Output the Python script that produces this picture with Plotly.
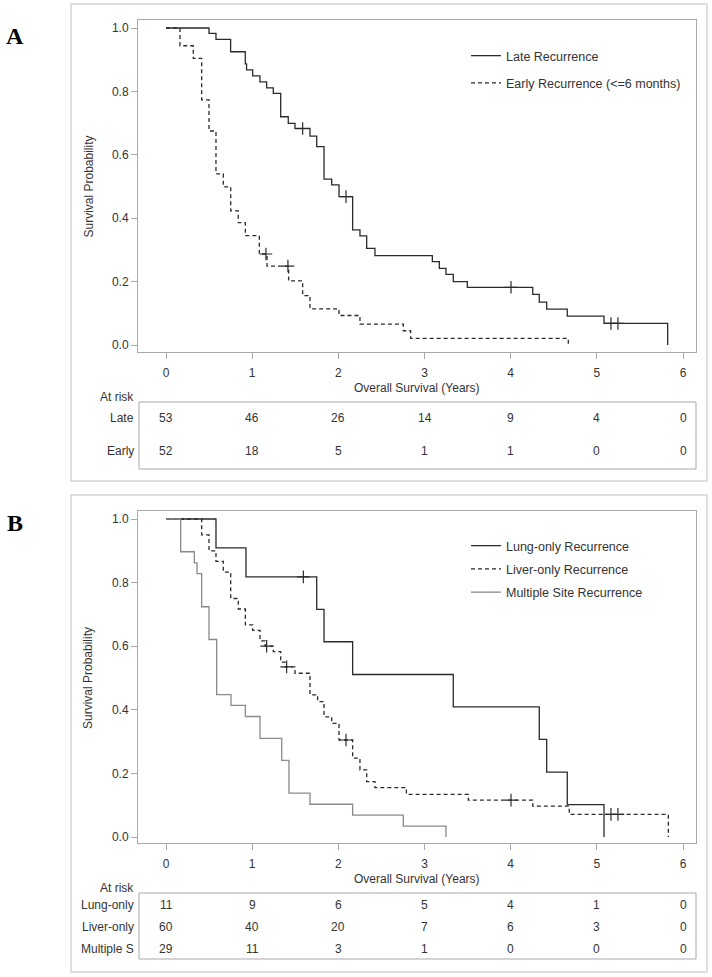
import plotly.graph_objects as go

W, H = 712, 977

# ---------------- data ----------------
years = [0, 1, 2, 3, 4, 5, 6]

# Panel A: Kaplan-Meier steps (time in years, survival after step)
late_t = [0, 0.499, 0.58, 0.75, 0.92, 0.935, 1.006, 1.09, 1.168, 1.245, 1.331, 1.419, 1.497, 1.671,
          1.749, 1.834, 1.923, 2.008, 2.166, 2.251, 2.329, 2.425, 3.091, 3.172, 3.249, 3.334,
          3.497, 4.256, 4.332, 4.418, 4.657, 5.083, 5.822]
late_s = [1.0, 0.983, 0.964, 0.925, 0.887, 0.868, 0.849, 0.830, 0.811, 0.794, 0.720, 0.699, 0.683,
          0.659, 0.626, 0.523, 0.505, 0.468, 0.363, 0.344, 0.305, 0.282, 0.263, 0.242, 0.223,
          0.200, 0.182, 0.160, 0.135, 0.113, 0.091, 0.068, 0.0]
late_cens_t = [1.586, 2.089, 4.004, 5.164, 5.245]
late_cens_s = [0.683, 0.468, 0.182, 0.068, 0.068]

early_t = [0, 0.162, 0.317, 0.414, 0.499, 0.580, 0.665, 0.751, 0.839, 0.921, 1.083, 1.172,
           1.423, 1.586, 1.671, 2.008, 2.251, 2.754, 2.839, 4.669]
early_s = [1.0, 0.944, 0.904, 0.773, 0.675, 0.540, 0.499, 0.423, 0.386, 0.345, 0.287, 0.249,
           0.202, 0.156, 0.114, 0.093, 0.066, 0.045, 0.021, 0.0]
early_cens_t = [1.160, 1.415]
early_cens_s = [0.287, 0.249]

# Panel B
lung_t = [0, 0.58, 0.928, 1.749, 1.834, 2.166, 3.334, 4.332, 4.418, 4.657, 5.083]
lung_s = [1.0, 0.909, 0.818, 0.716, 0.614, 0.511, 0.409, 0.307, 0.204, 0.102, 0.0]
lung_cens_t = [1.594]
lung_cens_s = [0.818]

liver_t = [0, 0.414, 0.499, 0.580, 0.665, 0.751, 0.839, 0.921, 1.006, 1.091, 1.150, 1.245,
           1.331, 1.380, 1.497, 1.671, 1.760, 1.834, 1.923, 2.008, 2.166, 2.251, 2.329, 2.425,
           2.790, 3.508, 4.256, 4.680, 5.830]
liver_s = [1.0, 0.950, 0.900, 0.867, 0.833, 0.750, 0.717, 0.667, 0.650, 0.617, 0.600, 0.583,
           0.550, 0.535, 0.515, 0.447, 0.426, 0.378, 0.357, 0.305, 0.248, 0.211, 0.174, 0.155,
           0.134, 0.116, 0.097, 0.071, 0.0]
liver_cens_t = [1.168, 1.400, 2.089, 4.004, 5.164, 5.245]
liver_cens_s = [0.600, 0.535, 0.305, 0.116, 0.071, 0.071]

multi_t = [0, 0.170, 0.329, 0.360, 0.414, 0.499, 0.588, 0.754, 0.921, 1.091, 1.343, 1.427,
           1.671, 2.166, 2.754, 3.249]
multi_s = [1.0, 0.897, 0.862, 0.828, 0.724, 0.621, 0.448, 0.414, 0.379, 0.310, 0.241, 0.138,
           0.103, 0.069, 0.034, 0.0]

# At-risk tables
risk_a_labels = ["Late", "Early"]
risk_a = [[53, 46, 26, 14, 9, 4, 0],
          [52, 18, 5, 1, 1, 0, 0]]
risk_b_labels = ["Lung-only", "Liver-only", "Multiple S"]
risk_b = [[11, 9, 6, 5, 4, 1, 0],
          [60, 40, 20, 7, 6, 3, 0],
          [29, 11, 3, 1, 0, 0, 0]]

legend_a = ["Late Recurrence", "Early Recurrence (<=6 months)"]
legend_b = ["Lung-only Recurrence", "Liver-only Recurrence", "Multiple Site Recurrence"]

# ---------------- styling ----------------
FONT = "Liberation Sans, Arial, sans-serif"
TXT = "#333333"
DARK = "#2b2b2b"
GRAY = "#8a8a8a"
FRAME = "#a9a9a9"
OUTER = "#d4d4d4"
DASH = "4px,3px"


def px(x):
    return x / W


def py(y):
    return 1 - y / H


fig = go.Figure()


def add_curve(t, s, color, dash, name, xa, ya, leg, group):
    fig.add_trace(go.Scatter(x=t, y=s, mode="lines", line=dict(color=color, width=1.3, dash=dash,
                                                                  shape="hv"),
                             name=name, xaxis=xa, yaxis=ya, legend=leg, legendgroup=group,
                             hoverinfo="skip"))


def add_cens(t, s, color, xa, ya):
    fig.add_trace(go.Scatter(x=t, y=s, mode="markers",
                             marker=dict(symbol="cross-thin", size=9, line=dict(color=color, width=1.2)),
                             showlegend=False, xaxis=xa, yaxis=ya, hoverinfo="skip"))


add_curve(late_t, late_s, DARK, "solid", legend_a[0], "x", "y", "legend", "a1")
add_curve(early_t, early_s, DARK, DASH, legend_a[1], "x", "y", "legend", "a2")
add_cens(late_cens_t, late_cens_s, DARK, "x", "y")
add_cens(early_cens_t, early_cens_s, DARK, "x", "y")

add_curve(lung_t, lung_s, DARK, "solid", legend_b[0], "x2", "y2", "legend2", "b1")
add_curve(liver_t, liver_s, DARK, DASH, legend_b[1], "x2", "y2", "legend2", "b2")
add_curve(multi_t, multi_s, GRAY, "solid", legend_b[2], "x2", "y2", "legend2", "b3")
add_cens(lung_cens_t, lung_cens_s, DARK, "x2", "y2")
add_cens(liver_cens_t, liver_cens_s, DARK, "x2", "y2")

# ---------------- axes ----------------
x0px, x6px = 166.0, 683.0
ppy = (x6px - x0px) / 6.0
fl, fr = 138, 696
xr = [(fl - x0px) / ppy, (fr - x0px) / ppy]


def xaxis(anchor):
    return dict(domain=[px(fl), px(fr)], range=xr, anchor=anchor, tickvals=years,
                ticks="outside", ticklen=6, tickcolor=FRAME, showline=True, mirror=True,
                linecolor=FRAME, linewidth=1, showgrid=False, zeroline=False,
                tickfont=dict(family=FONT, size=12, color=TXT), ticklabelstandoff=4)


def yaxis(anchor, top, bot, y1px, y0px):
    unit = y0px - y1px
    rng = [(y0px - bot) / unit, (y0px - top) / unit]
    return dict(domain=[py(bot), py(top)], range=rng, anchor=anchor,
                tickvals=[0, 0.2, 0.4, 0.6, 0.8, 1.0], tickformat=".1f",
                ticks="outside", ticklen=6, tickcolor=FRAME, showline=True, mirror=True,
                linecolor=FRAME, linewidth=1, showgrid=False, zeroline=False,
                tickfont=dict(family=FONT, size=12, color=TXT))


# panel geometry (pixels from top)
A_top, A_bot, A_y1, A_y0 = 20, 352, 28, 345
B_off = 491
B_top, B_bot, B_y1, B_y0 = 511, 843, 519, 837

fig.update_layout(
    xaxis=xaxis("y"), yaxis=yaxis("x", A_top, A_bot, A_y1, A_y0),
    xaxis2=xaxis("y2"), yaxis2=yaxis("x2", B_top, B_bot, B_y1, B_y0),
)

# ---------------- legends ----------------
leg_common = dict(xanchor="left", yanchor="top", bgcolor="rgba(0,0,0,0)", borderwidth=0,
                  font=dict(family=FONT, size=12.5, color=TXT), itemwidth=30,
                  traceorder="grouped", itemclick=False, itemdoubleclick=False)
fig.update_layout(
    legend=dict(x=px(466), y=py(41), tracegroupgap=8, **leg_common),
    legend2=dict(x=px(466), y=py(531), tracegroupgap=4, **leg_common),
)

annotations = []
shapes = []

# panel letters
for letter, yy in [("A", 36), ("B", 523)]:
    annotations.append(dict(x=px(15), y=py(yy), xref="paper", yref="paper", text=f"<b>{letter}</b>",
                            showarrow=False, font=dict(family="Liberation Serif, Times New Roman, serif",
                                                       size=24, color="#000"),
                            xanchor="center", yanchor="middle"))

# y titles
for ycen in [(A_y1 + A_y0) / 2, (B_y1 + B_y0) / 2]:
    annotations.append(dict(x=px(88), y=py(ycen), xref="paper", yref="paper",
                            text="Survival Probability", textangle=-90, showarrow=False,
                            font=dict(family=FONT, size=12, color=TXT), xanchor="center",
                            yanchor="middle"))


def table(off, labels, rows, box_top, box_bot, row_ys, xref):
    annotations.append(dict(x=px((fl + fr) / 2), y=py(388 + off), xref="paper", yref="paper",
                            text="Overall Survival (Years)", showarrow=False,
                            font=dict(family=FONT, size=12, color=TXT), xanchor="center",
                            yanchor="middle"))
    annotations.append(dict(x=px(136), y=py(397 + off), xref="paper", yref="paper",
                            text="At risk", showarrow=False,
                            font=dict(family=FONT, size=12, color=TXT), xanchor="right",
                            yanchor="middle"))
    shapes.append(dict(type="rect", xref="paper", yref="paper", x0=px(139), x1=px(fr),
                       y0=py(box_bot), y1=py(box_top), line=dict(color=FRAME, width=1)))
    for lab, vals, yy in zip(labels, rows, row_ys):
        annotations.append(dict(x=px(136), y=py(yy), xref="paper", yref="paper", text=lab,
                                showarrow=False, font=dict(family=FONT, size=12, color=TXT),
                                xanchor="right", yanchor="middle"))
        for yr, v in zip(years, vals):
            annotations.append(dict(x=yr, y=py(yy), xref=xref, yref="paper", text=str(v),
                                    showarrow=False, font=dict(family=FONT, size=12, color=TXT),
                                    xanchor="center", yanchor="middle"))


table(0, risk_a_labels, risk_a, 402, 469, [418, 451], "x")
table(B_off, risk_b_labels, risk_b, 893, 959, [905, 927, 949], "x2")

# outer panel frames
for t0, t1 in [(4, 481), (495, 972)]:
    shapes.append(dict(type="rect", xref="paper", yref="paper", x0=px(71), x1=px(707),
                       y0=py(t1), y1=py(t0), line=dict(color=OUTER, width=1.5)))

fig.update_layout(
    width=W, height=H, margin=dict(l=0, r=0, t=0, b=0, autoexpand=False),
    paper_bgcolor="white", plot_bgcolor="white",
    annotations=annotations, shapes=shapes, showlegend=True,
    font=dict(family=FONT, size=12, color=TXT), hovermode=False,
)

fig.write_html("out.html", config={"displayModeBar": False, "staticPlot": True},
               post_script="document.body.style.margin='0';document.body.style.overflow='hidden';")
